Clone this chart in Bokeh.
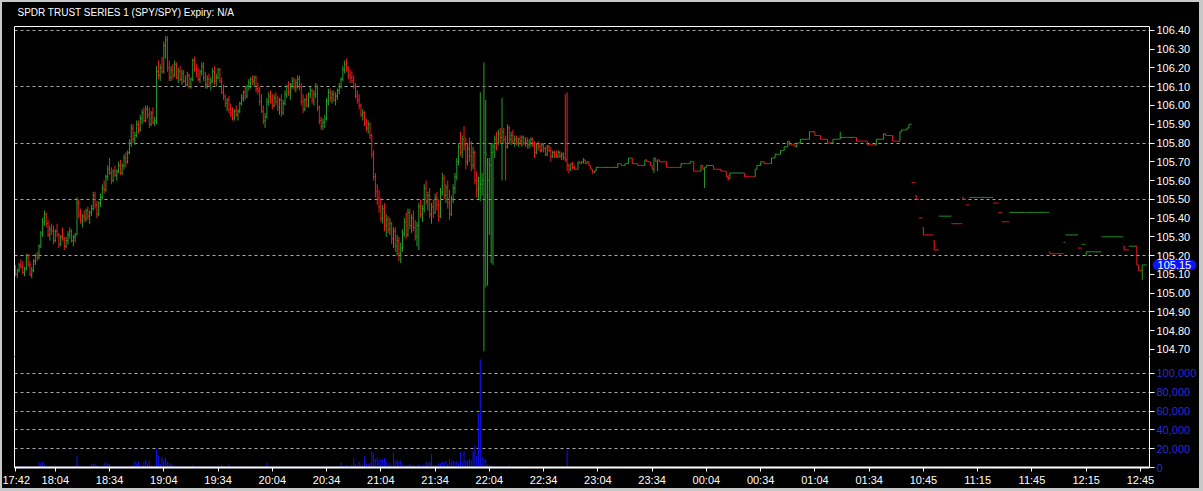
from bokeh.plotting import figure
from bokeh.layouts import column
from bokeh.models import (Range1d, FixedTicker, LinearAxis, Label,
                          NumeralTickFormatter, ColumnDataSource)
from bokeh.embed import file_html
from bokeh.resources import INLINE

TITLE = "SPDR TRUST SERIES 1 (SPY/SPY) Expiry: N/A"

# one-minute bars; prices are stored in cents above BASE
BASE = 105.00
session_starts = ["17:42", "10:39"]
session_lengths = [496, 130]

open_ct = [
    12, 10, 12, 15, 14, 11, 13, 19, 15, 10,
    12, 17, 20, 19, 25, 32, 38, 42, 37, 31,
    34, 33, 28, 33, 31, 26, 30, 29, 25, 28,
    31, 33, 28, 30, 31, 48, 42, 39, 41, 40,
    44, 41, 43, 45, 52, 47, 42, 48, 51, 56,
    55, 62, 66, 64, 60, 65, 63, 65, 68, 64,
    68, 72, 70, 75, 80, 88, 82, 84, 90, 87,
    93, 96, 92, 98, 95, 90, 96, 91, 92, 118,
    116, 120, 118, 132, 135, 120, 115, 119, 116, 122,
    115, 118, 114, 117, 113, 111, 116, 110, 114, 124,
    119, 117, 114, 118, 121, 115, 111, 114, 112, 113,
    118, 113, 115, 119, 113, 107, 105, 101, 103, 98,
    96, 93, 97, 95, 97, 101, 104, 107, 105, 110,
    112, 114, 113, 115, 109, 108, 102, 97, 92, 94,
    102, 105, 103, 100, 104, 102, 99, 103, 96, 101,
    106, 110, 107, 111, 113, 110, 112, 114, 110, 102,
    98, 103, 100, 106, 108, 103, 106, 110, 99, 92,
    89, 91, 93, 102, 107, 104, 106, 103, 105, 108,
    110, 114, 119, 122, 120, 116, 115, 113, 110, 105,
    103, 100, 95, 96, 91, 88, 90, 84, 74, 62,
    54, 50, 46, 40, 45, 36, 39, 34, 37, 29,
    33, 25, 28, 21, 24, 32, 38, 31, 43, 36,
    40, 35, 30, 36, 46, 42, 45, 56, 49, 52,
    42, 46, 43, 51, 47, 41, 54, 61, 52, 56,
    48, 42, 50, 56, 62, 70, 78, 75, 82, 79,
    70, 77, 73, 68, 75, 60, 55, 56, 58, 60,
    70, 52, 60, 68, 75, 78, 82, 80, 85, 83,
    86, 82, 78, 88, 82, 84, 81, 82, 80, 82,
    81, 83, 80, 81, 79, 80, 82, 79, 75, 79,
    78, 76, 79, 77, 74, 78, 76, 73, 75, 74,
    73, 75, 73, 74, 72, 71, 68, 66, 69, 67,
    66, 66, 70, 69, 70, 71, 69, 70, 68, 66,
    64, 65, 67, 67, 67, 67, 67, 67, 67, 67,
    67, 67, 67, 67, 69, 69, 68, 68, 69, 69,
    72, 72, 69, 69, 69, 68, 68, 68, 68, 71,
    70, 70, 68, 66, 72, 70, 71, 70, 70, 70,
    70, 67, 67, 67, 67, 67, 67, 67, 67, 69,
    69, 69, 69, 69, 70, 70, 65, 65, 65, 65,
    68, 66, 67, 68, 68, 68, 68, 66, 66, 66,
    66, 65, 65, 65, 62, 61, 64, 64, 64, 64,
    64, 64, 64, 64, 62, 62, 62, 62, 62, 62,
    66, 68, 68, 70, 70, 69, 69, 69, 69, 72,
    72, 74, 74, 74, 76, 76, 78, 78, 81, 79,
    79, 79, 78, 80, 80, 82, 82, 82, 82, 82,
    86, 86, 86, 84, 84, 84, 82, 82, 82, 82,
    80, 80, 80, 82, 82, 82, 82, 83, 83, 83,
    83, 83, 83, 83, 83, 83, 81, 81, 81, 81,
    81, 81, 79, 79, 79, 79, 79, 82, 82, 82,
    82, 85, 84, 84, 84, 84, 81, 81, 81, 81,
    86, 87, 87, 87, 88, 90, 59, 59, 52, 50,
    40, 40, 35, 31, 31, 31, 31, 31, 28, 23,
    23, 41, 41, 41, 41, 41, 41, 41, 37, 37,
    37, 37, 37, 37, 51, 50, 47, 47, 51, 51,
    51, 51, 51, 51, 51, 51, 51, 51, 51, 51,
    51, 48, 48, 48, 43, 43, 38, 38, 38, 38,
    43, 43, 43, 43, 43, 43, 43, 43, 43, 43,
    43, 43, 43, 43, 43, 43, 43, 43, 43, 43,
    43, 43, 22, 21, 21, 21, 21, 21, 21, 21,
    27, 31, 31, 31, 31, 31, 31, 31, 24, 24,
    26, 26, 20, 22, 22, 22, 22, 22, 22, 22,
    22, 30, 30, 30, 30, 30, 30, 30, 30, 30,
    30, 30, 30, 25, 23, 23, 25, 25, 25, 25,
    25, 15, 12, 12, 15, 15,
]

high_ct = [
    15, 13, 16, 18, 17, 14, 21, 21, 17, 14,
    18, 21, 22, 26, 33, 40, 44, 43, 39, 36,
    37, 36, 34, 37, 32, 31, 35, 30, 30, 33,
    35, 34, 31, 32, 51, 50, 45, 42, 44, 45,
    46, 44, 47, 54, 54, 49, 49, 53, 58, 60,
    63, 68, 72, 67, 66, 68, 66, 70, 71, 69,
    74, 75, 76, 82, 90, 90, 86, 92, 92, 95,
    98, 99, 100, 100, 99, 97, 99, 94, 121, 124,
    122, 126, 134, 137, 137, 124, 121, 122, 124, 123,
    120, 121, 119, 119, 116, 118, 117, 115, 125, 126,
    122, 120, 119, 123, 123, 118, 116, 117, 115, 120,
    121, 117, 120, 120, 115, 111, 106, 104, 105, 101,
    99, 98, 100, 98, 102, 106, 108, 110, 111, 114,
    115, 116, 116, 116, 112, 110, 106, 100, 96, 104,
    107, 108, 106, 106, 107, 105, 104, 106, 103, 108,
    111, 113, 112, 115, 115, 114, 116, 116, 112, 106,
    104, 106, 107, 110, 109, 108, 112, 111, 100, 94,
    93, 95, 104, 109, 109, 108, 108, 107, 109, 112,
    115, 121, 124, 125, 121, 119, 118, 116, 112, 108,
    106, 101, 98, 97, 93, 92, 91, 85, 76, 64,
    58, 55, 51, 47, 48, 42, 41, 40, 38, 35,
    35, 31, 30, 27, 34, 40, 43, 45, 45, 42,
    44, 39, 38, 48, 50, 47, 58, 60, 54, 56,
    48, 50, 53, 54, 50, 56, 64, 63, 58, 60,
    55, 52, 58, 64, 72, 80, 86, 84, 89, 83,
    80, 83, 81, 78, 76, 65, 62, 107, 64, 123,
    103, 72, 72, 80, 80, 84, 86, 87, 88, 104,
    88, 84, 90, 89, 86, 87, 84, 84, 83, 84,
    84, 84, 83, 83, 82, 83, 83, 81, 80, 81,
    80, 80, 80, 78, 79, 79, 78, 76, 76, 76,
    76, 76, 75, 75, 106, 107, 69, 69, 70, 68,
    66, 70, 70, 70, 72, 71, 70, 70, 68, 66,
    65, 67, 67, 67, 67, 67, 67, 67, 67, 67,
    67, 67, 67, 69, 69, 69, 68, 69, 69, 72,
    72, 72, 69, 69, 69, 68, 68, 68, 71, 71,
    70, 70, 68, 72, 72, 71, 71, 70, 70, 70,
    70, 67, 67, 67, 67, 67, 67, 67, 69, 69,
    69, 69, 69, 70, 70, 70, 65, 65, 65, 68,
    68, 67, 68, 68, 68, 68, 68, 66, 66, 66,
    66, 65, 65, 65, 63, 64, 64, 64, 64, 64,
    64, 64, 64, 64, 62, 62, 62, 62, 62, 66,
    68, 68, 70, 70, 70, 69, 69, 69, 72, 72,
    74, 74, 74, 76, 76, 78, 78, 81, 81, 79,
    79, 79, 80, 80, 82, 82, 82, 82, 82, 86,
    86, 86, 86, 84, 84, 84, 82, 82, 82, 82,
    80, 80, 82, 82, 82, 82, 86, 83, 83, 83,
    83, 83, 83, 83, 83, 83, 81, 81, 81, 81,
    81, 81, 79, 79, 79, 79, 82, 82, 82, 82,
    85, 85, 84, 84, 84, 84, 81, 81, 81, 86,
    87, 87, 87, 88, 90, 90, 59, 59, 52, 50,
    40, 40, 35, 31, 31, 31, 31, 31, 28, 23,
    23, 41, 41, 41, 41, 41, 41, 41, 37, 37,
    37, 37, 37, 37, 51, 50, 47, 47, 51, 51,
    51, 51, 51, 51, 51, 51, 51, 51, 51, 51,
    51, 48, 48, 48, 43, 43, 38, 38, 38, 38,
    43, 43, 43, 43, 43, 43, 43, 43, 43, 43,
    43, 43, 43, 43, 43, 43, 43, 43, 43, 43,
    43, 43, 22, 21, 21, 21, 21, 21, 21, 21,
    27, 31, 31, 31, 31, 31, 31, 31, 24, 24,
    26, 26, 22, 22, 22, 22, 22, 22, 22, 22,
    22, 30, 30, 30, 30, 30, 30, 30, 30, 30,
    30, 30, 30, 25, 23, 23, 25, 25, 25, 25,
    25, 15, 12, 15, 15, 15,
]

low_ct = [
    9, 8, 11, 13, 10, 9, 12, 14, 9, 8,
    11, 15, 17, 18, 24, 30, 36, 35, 30, 28,
    31, 26, 27, 30, 24, 25, 28, 23, 24, 26,
    29, 27, 25, 27, 31, 40, 37, 35, 38, 38,
    39, 37, 41, 44, 45, 40, 41, 46, 50, 53,
    54, 60, 63, 58, 59, 62, 60, 64, 63, 63,
    66, 67, 69, 74, 78, 80, 79, 83, 85, 86,
    90, 91, 91, 93, 88, 89, 90, 89, 90, 114,
    113, 117, 117, 125, 118, 113, 113, 114, 115, 114,
    112, 113, 111, 112, 110, 110, 109, 109, 113, 118,
    115, 113, 112, 116, 113, 109, 109, 110, 108, 112,
    111, 110, 114, 112, 106, 103, 99, 97, 96, 94,
    92, 92, 94, 92, 96, 100, 102, 103, 104, 108,
    109, 111, 110, 107, 106, 100, 96, 90, 88, 93,
    100, 101, 98, 99, 100, 97, 95, 94, 95, 100,
    104, 105, 103, 109, 108, 107, 109, 108, 100, 96,
    97, 99, 99, 104, 101, 100, 104, 97, 90, 87,
    87, 88, 92, 100, 102, 101, 102, 100, 103, 106,
    109, 113, 117, 118, 114, 112, 112, 109, 104, 101,
    98, 94, 92, 89, 86, 85, 82, 72, 60, 51,
    47, 43, 38, 37, 33, 30, 32, 31, 26, 24,
    22, 20, 17, 16, 22, 30, 29, 30, 34, 32,
    33, 28, 25, 23, 40, 38, 43, 47, 44, 40,
    37, 40, 42, 44, 38, 40, 52, 50, 48, 45,
    39, 41, 48, 53, 60, 68, 73, 72, 76, 66,
    68, 70, 65, 66, 58, 51, 50, 49, 52, -31,
    3, 4, 31, 16, 15, 72, 76, 79, 80, 60,
    80, 60, 77, 80, 79, 80, 78, 79, 78, 79,
    78, 79, 78, 77, 77, 78, 78, 72, 74, 76,
    75, 75, 75, 73, 73, 75, 70, 72, 72, 72,
    72, 72, 71, 71, 70, 65, 64, 65, 66, 66,
    66, 66, 69, 69, 69, 69, 69, 68, 66, 64,
    64, 65, 67, 67, 67, 67, 67, 67, 67, 67,
    67, 67, 67, 67, 69, 68, 68, 68, 69, 69,
    72, 69, 69, 69, 68, 68, 68, 68, 68, 70,
    70, 68, 66, 64, 70, 65, 70, 70, 70, 70,
    67, 67, 67, 67, 67, 67, 67, 67, 67, 69,
    69, 69, 69, 69, 70, 65, 65, 65, 65, 65,
    66, 56, 67, 68, 68, 68, 66, 66, 66, 66,
    65, 65, 65, 62, 60, 61, 64, 64, 64, 64,
    64, 64, 64, 62, 62, 62, 62, 62, 62, 62,
    66, 68, 68, 70, 69, 69, 69, 69, 69, 72,
    72, 74, 74, 74, 76, 76, 78, 78, 79, 79,
    79, 78, 78, 80, 80, 82, 82, 82, 82, 82,
    86, 86, 84, 84, 84, 82, 82, 82, 82, 80,
    80, 80, 80, 82, 82, 82, 82, 83, 83, 83,
    83, 83, 83, 83, 83, 81, 81, 81, 81, 81,
    81, 79, 79, 79, 79, 79, 79, 82, 82, 82,
    82, 84, 84, 84, 84, 81, 81, 81, 81, 81,
    86, 87, 87, 87, 88, 90, 59, 59, 50, 50,
    40, 40, 31, 31, 31, 31, 31, 31, 23, 23,
    23, 41, 41, 41, 41, 41, 41, 41, 37, 37,
    37, 37, 37, 37, 50, 50, 47, 47, 51, 51,
    51, 51, 51, 51, 51, 51, 51, 51, 51, 51,
    51, 48, 48, 48, 43, 43, 38, 38, 38, 38,
    43, 43, 43, 43, 43, 43, 43, 43, 43, 43,
    43, 43, 43, 43, 43, 43, 43, 43, 43, 43,
    43, 43, 21, 21, 21, 21, 21, 21, 21, 21,
    27, 31, 31, 31, 31, 31, 31, 31, 24, 24,
    26, 26, 20, 22, 22, 22, 22, 22, 22, 22,
    22, 30, 30, 30, 30, 30, 30, 30, 30, 30,
    30, 30, 30, 23, 23, 23, 25, 25, 25, 25,
    15, 12, 12, 7, 15, 15,
]

close_ct = [
    10, 12, 15, 14, 11, 13, 19, 15, 10, 12,
    17, 20, 19, 25, 32, 38, 42, 37, 31, 34,
    33, 28, 33, 31, 26, 30, 29, 25, 28, 31,
    33, 28, 30, 31, 48, 42, 39, 41, 40, 44,
    41, 43, 45, 52, 47, 42, 48, 51, 56, 55,
    62, 66, 64, 60, 65, 63, 65, 68, 64, 68,
    72, 70, 75, 80, 88, 82, 84, 90, 87, 93,
    96, 92, 98, 95, 90, 96, 91, 92, 118, 116,
    120, 118, 132, 135, 120, 115, 119, 116, 122, 115,
    118, 114, 117, 113, 111, 116, 110, 114, 124, 119,
    117, 114, 118, 121, 115, 111, 114, 112, 113, 118,
    113, 115, 119, 113, 107, 105, 101, 103, 98, 96,
    93, 97, 95, 97, 101, 104, 107, 105, 110, 112,
    114, 113, 115, 109, 108, 102, 97, 92, 94, 102,
    105, 103, 100, 104, 102, 99, 103, 96, 101, 106,
    110, 107, 111, 113, 110, 112, 114, 110, 102, 98,
    103, 100, 106, 108, 103, 106, 110, 99, 92, 89,
    91, 93, 102, 107, 104, 106, 103, 105, 108, 110,
    114, 119, 122, 120, 116, 115, 113, 110, 105, 103,
    100, 95, 96, 91, 88, 90, 84, 74, 62, 54,
    50, 46, 40, 45, 36, 39, 34, 37, 29, 33,
    25, 28, 21, 24, 32, 38, 31, 43, 36, 40,
    35, 30, 36, 46, 42, 45, 56, 49, 52, 42,
    46, 43, 51, 47, 41, 54, 61, 52, 56, 48,
    42, 50, 56, 62, 70, 78, 75, 82, 79, 70,
    77, 73, 68, 75, 60, 55, 56, 58, 60, 75,
    74, 69, 68, 75, 78, 82, 80, 85, 83, 86,
    82, 78, 88, 82, 84, 81, 82, 80, 82, 81,
    83, 80, 81, 79, 80, 82, 79, 75, 79, 78,
    76, 79, 77, 74, 78, 76, 73, 75, 74, 73,
    75, 73, 74, 72, 71, 68, 66, 69, 67, 66,
    66, 70, 69, 70, 71, 69, 70, 68, 66, 64,
    65, 67, 67, 67, 67, 67, 67, 67, 67, 67,
    67, 67, 67, 69, 69, 68, 68, 69, 69, 72,
    72, 69, 69, 69, 68, 68, 68, 68, 71, 70,
    70, 68, 66, 72, 70, 71, 70, 70, 70, 70,
    67, 67, 67, 67, 67, 67, 67, 67, 69, 69,
    69, 69, 69, 70, 70, 65, 65, 65, 65, 68,
    66, 67, 68, 68, 68, 68, 66, 66, 66, 66,
    65, 65, 65, 62, 61, 64, 64, 64, 64, 64,
    64, 64, 64, 62, 62, 62, 62, 62, 62, 66,
    68, 68, 70, 70, 69, 69, 69, 69, 72, 72,
    74, 74, 74, 76, 76, 78, 78, 81, 79, 79,
    79, 78, 80, 80, 82, 82, 82, 82, 82, 86,
    86, 86, 84, 84, 84, 82, 82, 82, 82, 80,
    80, 80, 82, 82, 82, 82, 83, 83, 83, 83,
    83, 83, 83, 83, 83, 81, 81, 81, 81, 81,
    81, 79, 79, 79, 79, 79, 82, 82, 82, 82,
    85, 84, 84, 84, 84, 81, 81, 81, 81, 86,
    87, 87, 87, 88, 90, 90, 59, 59, 50, 50,
    40, 40, 31, 31, 31, 31, 31, 31, 23, 23,
    23, 41, 41, 41, 41, 41, 41, 41, 37, 37,
    37, 37, 37, 37, 50, 50, 47, 47, 51, 51,
    51, 51, 51, 51, 51, 51, 51, 51, 51, 51,
    51, 48, 48, 48, 43, 43, 38, 38, 38, 38,
    43, 43, 43, 43, 43, 43, 43, 43, 43, 43,
    43, 43, 43, 43, 43, 43, 43, 43, 43, 43,
    43, 43, 21, 21, 21, 21, 21, 21, 21, 21,
    27, 31, 31, 31, 31, 31, 31, 31, 24, 24,
    26, 26, 22, 22, 22, 22, 22, 22, 22, 22,
    22, 30, 30, 30, 30, 30, 30, 30, 30, 30,
    30, 30, 30, 23, 23, 23, 25, 25, 25, 25,
    15, 12, 12, 15, 15, 15,
]

# shares traded per minute (only the evening session prints volume)
volume = [
    800, 1200, 600, 1000, 700, 1500, 900, 600, 1100, 800,
    700, 1300, 900, 6000, 4500, 5800, 3000, 1200, 900, 1500,
    1000, 700, 1200, 800, 600, 900, 1100, 700, 800, 1000,
    600, 900, 700, 1200, 12000, 1500, 900, 1100, 800, 1000,
    700, 1300, 4000, 3500, 4200, 2500, 1000, 1200, 800, 4500,
    5500, 4000, 3800, 1500, 900, 700, 1200, 1000, 800, 1300,
    900, 1100, 1500, 1200, 2500, 1800, 7000, 4500, 6500, 3000,
    2500, 6000, 8000, 3500, 7500, 2000, 1500, 2200, 20000, 13000,
    4000, 11000, 8000, 10500, 6000, 5000, 4000, 2500, 1500, 1000,
    1200, 800, 900, 1500, 700, 1000, 600, 1100, 2000, 1200,
    900, 700, 1000, 800, 1200, 600, 900, 700, 1100, 800,
    1000, 700, 900, 800, 3000, 1200, 800, 1500, 3200, 900,
    700, 1100, 800, 600, 900, 1200, 700, 1000, 800, 1100,
    600, 900, 700, 1000, 800, 1200, 900, 700, 1500, 5000,
    1200, 800, 900, 700, 1100, 600, 1000, 800, 700, 900,
    1100, 800, 600, 900, 700, 1000, 800, 1200, 700, 900,
    600, 1000, 800, 700, 900, 1100, 800, 600, 1000, 700,
    900, 800, 1200, 700, 1000, 800, 900, 1500, 1200, 2000,
    5000, 1800, 1500, 2500, 1200, 2000, 3000, 10000, 3500, 2500,
    6000, 3000, 2500, 12000, 4000, 3500, 5000, 17000, 15000, 9000,
    11000, 8000, 9500, 8000, 10000, 6000, 3000, 5000, 2000, 16000,
    7000, 8500, 6500, 7500, 3000, 2500, 3000, 2000, 3500, 2500,
    3000, 2000, 2500, 3500, 2000, 3000, 2500, 6000, 5000, 6500,
    14000, 3000, 2000, 2500, 5000, 4500, 6000, 5500, 7000, 4000,
    9000, 5500, 8000, 6000, 7000, 5000, 17000, 6500, 17000, 8000,
    7500, 9000, 8000, 17000, 24000, 12000, 58000, 115000, 11000, 10000,
    8000, 3000, 2000, 2500, 1500, 1000, 0, 0, 0, 0,
    0, 0, 0, 2500, 0, 0, 0, 0, 0, 0,
    0, 0, 0, 0, 0, 0, 0, 0, 0, 0,
    0, 0, 0, 0, 0, 0, 0, 0, 0, 0,
    0, 0, 0, 0, 0, 19000,
]

price_ticks = [104.70, 104.80, 104.90, 105.00, 105.10, 105.20, 105.30, 105.40, 105.50,
               105.60, 105.70, 105.80, 105.90, 106.00, 106.10, 106.20, 106.30, 106.40]
price_grid = [104.90, 105.20, 105.50, 105.80, 106.10, 106.40]
volume_ticks = [0, 20000, 40000, 60000, 80000, 100000]
time_tick_labels = ["17:42", "18:04", "18:34", "19:04", "19:34", "20:04", "20:34",
                    "21:04", "21:34", "22:04", "22:34", "23:04", "23:34", "00:04",
                    "00:34", "01:04", "01:34", "10:45", "11:15", "11:45", "12:15",
                    "12:45"]

# ---- colours / fonts ----
UP = "#27a127"
DOWN = "#f41c1c"
VOL = "#1212e6"
VOL_LABEL = "#2a2ad8"
GRID = "#a9a9a9"
FONT = "Liberation Sans"

n = len(close_ct)
assert len(open_ct) == len(high_ct) == len(low_ct) == n == sum(session_lengths)


def to_price(ct):
    return [BASE + v / 100.0 for v in ct]


opens, highs, lows, closes = map(to_price, (open_ct, high_ct, low_ct, close_ct))


def minutes(hhmm):
    h, m = hhmm.split(":")
    return int(h) * 60 + int(m)


bar_times = []
for start, count in zip(session_starts, session_lengths):
    t0 = minutes(start)
    for k in range(count):
        t = (t0 + k) % 1440
        bar_times.append(f"{t // 60:02d}:{t % 60:02d}")
tick_idx = [bar_times.index(lbl) for lbl in time_tick_labels]

# bar colour: close vs open, ties decided against the previous close
colors = []
up = True
prev = None
for o, c in zip(open_ct, close_ct):
    if c > o:
        up = True
    elif c < o:
        up = False
    elif prev is not None and c != prev:
        up = c > prev
    colors.append(UP if up else DOWN)
    prev = c

xs = list(range(n))
bars = ColumnDataSource(dict(
    x=xs, xl=[x - 0.5 for x in xs], xr=[x + 0.5 for x in xs],
    open=opens, high=highs, low=lows, close=closes, color=colors,
))
vx = [i for i, v in enumerate(volume) if v > 0]
vols = ColumnDataSource(dict(x=vx, v=[volume[i] for i in vx]))

# ---- geometry ----
W = 1197
H_PRICE = 354
H_VOL = 132
x_range = Range1d(-0.55, 627.0)
PX_PER_BAR = (W - 12 - 46) / (x_range.end - x_range.start)


def bare_axis():
    return LinearAxis(ticker=FixedTicker(ticks=[]), axis_line_color="white",
                      major_tick_out=0, major_tick_in=0, minor_tick_out=0,
                      minor_tick_in=0, major_label_standoff=0)


def style_value_axis(ax, ticks, fmt, label_color):
    ax.ticker = FixedTicker(ticks=ticks)
    ax.formatter = NumeralTickFormatter(format=fmt)
    ax.axis_line_color = "white"
    ax.major_tick_line_color = "white"
    ax.major_tick_out = 5
    ax.major_tick_in = 0
    ax.minor_tick_out = 0
    ax.minor_tick_in = 0
    ax.major_label_standoff = 2
    ax.major_label_text_color = label_color
    ax.major_label_text_font = FONT
    ax.major_label_text_font_size = "11px"


# ---- price pane ----
price = figure(width=W, height=H_PRICE, x_range=x_range,
               y_range=Range1d(104.662, 106.421),
               output_backend="svg", toolbar_location=None,
               y_axis_location="right", x_axis_location=None,
               min_border_left=12, min_border_right=46,
               min_border_top=24, min_border_bottom=0,
               background_fill_color="black", border_fill_color="black",
               outline_line_color=None)
style_value_axis(price.right[0], price_ticks, "0.00", "white")
price.add_layout(bare_axis(), "left")
price.add_layout(bare_axis(), "above")

price.xgrid.visible = False
price.ygrid.ticker = FixedTicker(ticks=price_grid)
price.ygrid.grid_line_color = GRID
price.ygrid.grid_line_dash = "3 3"
price.ygrid.grid_line_width = 1

price.segment(x0="x", y0="low", x1="x", y1="high", line_color="color",
              line_width=1, source=bars)
price.segment(x0="xl", y0="open", x1="x", y1="open", line_color="color",
              line_width=1, source=bars)
price.segment(x0="x", y0="close", x1="xr", y1="close", line_color="color",
              line_width=1, source=bars)

# heading and last-trade marker live in the top margin so they are not clipped
price.add_layout(Label(x=1.1, y=106.496, text=TITLE, text_color="white",
                       text_font=FONT, text_font_size="10px",
                       text_baseline="middle", text_align="left"), "above")

last = closes[-1]
price.add_layout(Label(x=x_range.end + 25.0 / PX_PER_BAR, y=last,
                       text=f"{last:.2f}", text_color="white", text_font=FONT,
                       text_font_size="11px", text_baseline="middle",
                       text_align="center", background_fill_color="#0a14ff",
                       border_radius=7,
                       padding=dict(left=5, right=5, top=1, bottom=1)), "above")

# ---- volume pane ----
vol = figure(width=W, height=H_VOL, x_range=x_range,
             y_range=Range1d(0, 118000),
             output_backend="svg", toolbar_location=None,
             y_axis_location="right",
             min_border_left=12, min_border_right=46,
             min_border_top=0, min_border_bottom=21,
             background_fill_color="black", border_fill_color="black",
             outline_line_color=None)
style_value_axis(vol.right[0], volume_ticks, "0,0", VOL_LABEL)
vol.add_layout(bare_axis(), "left")

xa = vol.below[0]
xa.ticker = FixedTicker(ticks=tick_idx)
xa.major_label_overrides = {i: lbl for i, lbl in zip(tick_idx, time_tick_labels)}
xa.axis_line_color = "white"
xa.axis_line_width = 2
xa.major_tick_line_color = "white"
xa.major_tick_out = 4
xa.major_tick_in = 0
xa.minor_tick_out = 0
xa.minor_tick_in = 0
xa.major_label_standoff = 2
xa.major_label_text_color = "white"
xa.major_label_text_font = FONT
xa.major_label_text_font_size = "11px"

vol.xgrid.visible = False
vol.ygrid.ticker = FixedTicker(ticks=volume_ticks[1:])
vol.ygrid.grid_line_color = GRID
vol.ygrid.grid_line_dash = "3 3"

vol.vbar(x="x", top="v", bottom=0, width=0.6, fill_color=VOL,
         line_color=None, source=vols)

page = column(price, vol, spacing=0,
              styles={"background-color": "black",
                      "border-style": "solid",
                      "border-color": "#c8c8c8",
                      "border-width": "2px 4px 3px 2px"})

open("out.html", "w").write(file_html(page, INLINE, title="SPY"))
